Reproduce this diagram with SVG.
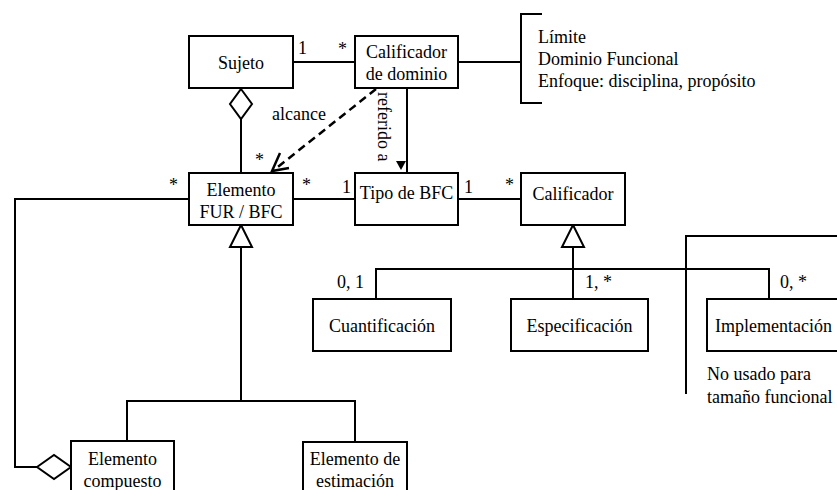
<svg xmlns="http://www.w3.org/2000/svg" width="837" height="490" viewBox="0 0 837 490">
<rect width="837" height="490" fill="#fff"/>
<g id="connectors" fill="none" stroke="#000" stroke-width="2">
<line x1="293" y1="62" x2="355" y2="62"/>
<line x1="458" y1="62" x2="521" y2="62"/>
<path d="M542,14 H521 V103 H542"/>
<line x1="241" y1="119" x2="241" y2="173"/>
<path d="M241,89 L252,104 L241,119 L230,104 Z"/>
<line x1="407" y1="88" x2="407" y2="173"/>
<path d="M396,161 L406,161 L401,170 Z" fill="#000" stroke="none"/>
<line x1="376" y1="89" x2="274" y2="170" stroke-width="2.5" stroke-dasharray="8,5"/>
<path d="M280,153 L272,171 L289,168" stroke-width="2.5"/>
<line x1="293" y1="199" x2="355" y2="199"/>
<line x1="458" y1="199" x2="521" y2="199"/>
<path d="M189,199 H15 V467 H37"/>
<path d="M37,467 L54,455 L71,467 L54,479 Z"/>
<path d="M241,225 L252,247 L230,247 Z"/>
<line x1="241" y1="247" x2="241" y2="401"/>
<path d="M127,441 V401 H355 V442"/>
<path d="M573,225 L584,247 L562,247 Z"/>
<line x1="573" y1="247" x2="573" y2="299"/>
<path d="M376,299 V269 H769 V299"/>
<path d="M686,394 V236 H840"/>
</g>
<g id="sujeto">
<rect x="189" y="36" width="104" height="52" fill="#fff" stroke="#000" stroke-width="2"/>
<text x="241" y="69" text-anchor="middle" font-family="Liberation Serif" font-size="18">Sujeto</text>
</g>
<g id="calificador-dominio">
<rect x="355" y="36" width="103" height="52" fill="#fff" stroke="#000" stroke-width="2"/>
<text x="406.5" y="58" text-anchor="middle" font-family="Liberation Serif" font-size="18">Calificador</text>
<text x="406.5" y="80" text-anchor="middle" font-family="Liberation Serif" font-size="18">de dominio</text>
</g>
<g id="elemento-fur">
<rect x="189" y="173" width="104" height="52" fill="#fff" stroke="#000" stroke-width="2"/>
<text x="241" y="196" text-anchor="middle" font-family="Liberation Serif" font-size="18">Elemento</text>
<text x="241" y="218" text-anchor="middle" font-family="Liberation Serif" font-size="18">FUR / BFC</text>
</g>
<g id="tipo-bfc">
<rect x="355" y="173" width="103" height="52" fill="#fff" stroke="#000" stroke-width="2"/>
<text x="406.5" y="199" text-anchor="middle" font-family="Liberation Serif" font-size="18">Tipo de BFC</text>
</g>
<g id="calificador">
<rect x="521" y="173" width="104" height="52" fill="#fff" stroke="#000" stroke-width="2"/>
<text x="573" y="200" text-anchor="middle" font-family="Liberation Serif" font-size="18">Calificador</text>
</g>
<g id="cuantificacion">
<rect x="313" y="299" width="138" height="52" fill="#fff" stroke="#000" stroke-width="2"/>
<text x="382" y="332" text-anchor="middle" font-family="Liberation Serif" font-size="18">Cuantificaci&#243;n</text>
</g>
<g id="especificacion">
<rect x="511" y="299" width="137" height="52" fill="#fff" stroke="#000" stroke-width="2"/>
<text x="579.5" y="332" text-anchor="middle" font-family="Liberation Serif" font-size="18">Especificaci&#243;n</text>
</g>
<g id="implementacion">
<rect x="707" y="299" width="145" height="52" fill="#fff" stroke="#000" stroke-width="2"/>
<text x="715" y="332" font-family="Liberation Serif" font-size="18">Implementaci&#243;n</text>
</g>
<g id="elemento-compuesto">
<rect x="71" y="441" width="103" height="60" fill="#fff" stroke="#000" stroke-width="2"/>
<text x="122.5" y="465" text-anchor="middle" font-family="Liberation Serif" font-size="18">Elemento</text>
<text x="122.5" y="487" text-anchor="middle" font-family="Liberation Serif" font-size="18">compuesto</text>
</g>
<g id="elemento-estimacion">
<rect x="303" y="442" width="104" height="60" fill="#fff" stroke="#000" stroke-width="2"/>
<text x="355" y="465" text-anchor="middle" font-family="Liberation Serif" font-size="18">Elemento de</text>
<text x="355" y="487" text-anchor="middle" font-family="Liberation Serif" font-size="18">estimaci&#243;n</text>
</g>
<g id="labels">
<text x="298" y="54" font-family="Liberation Serif" font-size="18">1</text>
<text x="338" y="55" font-family="Liberation Serif" font-size="18">*</text>
<text x="255" y="166" font-family="Liberation Serif" font-size="18">*</text>
<text x="169" y="191" font-family="Liberation Serif" font-size="18">*</text>
<text x="302" y="191" font-family="Liberation Serif" font-size="18">*</text>
<text x="342" y="193" font-family="Liberation Serif" font-size="18">1</text>
<text x="464" y="193" font-family="Liberation Serif" font-size="18">1</text>
<text x="505" y="191" font-family="Liberation Serif" font-size="18">*</text>
<text x="337" y="288" font-family="Liberation Serif" font-size="18">0, 1</text>
<text x="585" y="288" font-family="Liberation Serif" font-size="18">1, *</text>
<text x="780" y="288" font-family="Liberation Serif" font-size="18">0, *</text>
<text x="272" y="120" font-family="Liberation Serif" font-size="18">alcance</text>
<text transform="translate(378,92) rotate(90)" font-family="Liberation Serif" font-size="18">referido a</text>
<text x="538" y="43" font-family="Liberation Serif" font-size="18">L&#237;mite</text>
<text x="538" y="65" font-family="Liberation Serif" font-size="18">Dominio Funcional</text>
<text x="538" y="87" font-family="Liberation Serif" font-size="18">Enfoque: disciplina, prop&#243;sito</text>
<text x="707" y="380" font-family="Liberation Serif" font-size="18">No usado para</text>
<text x="707" y="403" font-family="Liberation Serif" font-size="18">tama&#241;o funcional</text>
</g>
</svg>
